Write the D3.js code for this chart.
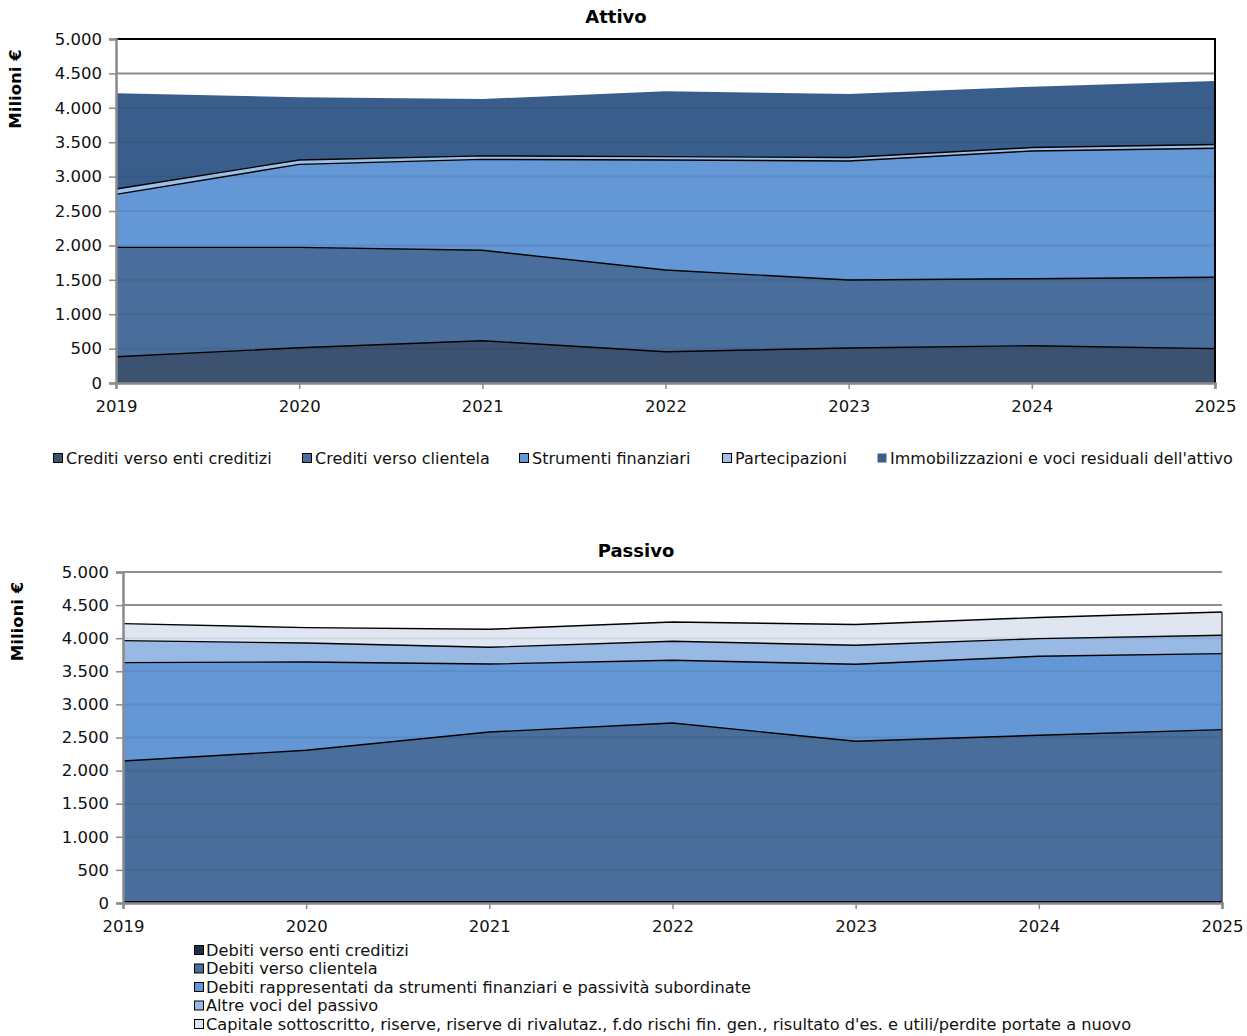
<!DOCTYPE html>
<html>
<head>
<meta charset="utf-8">
<script src="https://cdn.jsdelivr.net/npm/d3@7"></script>
<style>
  html, body { margin: 0; padding: 0; background: #fff; }
  svg { display: block; font-family: "DejaVu Sans", Verdana, sans-serif; }
</style>
</head>
<body>
<svg id="chart" width="1247" height="1036"></svg>
<script>
// Years on the x axis
const years = [2019, 2020, 2021, 2022, 2023, 2024, 2025];
const yTicks = [0, 500, 1000, 1500, 2000, 2500, 3000, 3500, 4000, 4500, 5000];

// Attivo (milioni di euro)
const attivoNames = [
  "Crediti verso enti creditizi",
  "Crediti verso clientela",
  "Strumenti finanziari",
  "Partecipazioni",
  "Immobilizzazioni e voci residuali dell'attivo"
];
const creditiEnti      = [382, 513, 615, 455, 509, 542, 499];
const creditiClientela = [1590, 1459, 1314, 1187, 988, 974, 1037];
const strumentiFin     = [770, 1206, 1322, 1599, 1730, 1856, 1875];
const partecipazioni   = [78, 63, 50, 50, 50, 50, 55];
const immobilizzazioni = [1391, 912, 827, 949, 924, 885, 924];
const attivoColors = ["#3c5270", "#4a6e9b", "#6497d5", "#9ebfe8", "#3a5e8c"];

// Passivo (milioni di euro)
const passivoNames = [
  "Debiti verso enti creditizi",
  "Debiti verso clientela",
  "Debiti rappresentati da strumenti finanziari e passività subordinate",
  "Altre voci del passivo",
  "Capitale sottoscritto, riserve, riserve di rivalutaz., f.do rischi fin. gen., risultato d'es. e utili/perdite portate a nuovo"
];
const debitiEnti       = [20, 20, 20, 20, 20, 20, 20];
const debitiClientela  = [2125, 2287, 2563, 2699, 2423, 2513, 2599];
const debitiRappr      = [1486, 1334, 1027, 947, 1163, 1194, 1148];
const altreVoci        = [333, 286, 253, 287, 287, 267, 277];
const capitale         = [256, 233, 272, 292, 315, 319, 352];
const passivoColors = ["#1c2e4a", "#4a6e9b", "#6497d5", "#98b9e3", "#dfe6f1"];

const svg = d3.select("#chart");
const fmt = v => d3.format(",")(v).replace(/,/g, ".");
const FONT = "'DejaVu Sans', Verdana, sans-serif";

function buildRows(series) {
  return years.map((y, i) => {
    const row = { year: y };
    series.forEach((s, k) => { row["s" + k] = s[i]; });
    return row;
  });
}

function drawChart(opt) {
  const g = svg.append("g");
  const x = d3.scaleLinear().domain([years[0], years[years.length - 1]]).range([opt.left, opt.right]);
  const y = d3.scaleLinear().domain([0, 5000]).range([opt.bottom, opt.top]);

  const keys = opt.series.map((_, k) => "s" + k);
  const stacked = d3.stack().keys(keys)(buildRows(opt.series));

  // horizontal gridlines behind the areas
  g.append("g").selectAll("line").data(yTicks.slice(1)).join("line")
    .attr("x1", opt.left).attr("x2", opt.right)
    .attr("y1", d => y(d)).attr("y2", d => y(d))
    .attr("stroke", "#9a9a9a").attr("stroke-width", 2);

  const area = d3.area().x(d => x(d.data.year)).y0(d => y(d[0])).y1(d => y(d[1]));
  const topLine = d3.line().x(d => x(d.data.year)).y(d => y(d[1]));

  g.append("g").selectAll("path").data(stacked).join("path")
    .attr("d", area)
    .attr("fill", (d, i) => opt.colors[i]);

  // faint gridlines seen through the fills
  g.append("g").selectAll("line").data(yTicks.slice(1)).join("line")
    .attr("x1", opt.left).attr("x2", opt.right)
    .attr("y1", d => y(d)).attr("y2", d => y(d))
    .attr("stroke", "#000").attr("stroke-opacity", 0.07).attr("stroke-width", 2);

  // black outlines along the top of each layer
  g.append("g").selectAll("path").data(stacked.filter((d, i) => opt.outline[i])).join("path")
    .attr("d", topLine)
    .attr("fill", "none").attr("stroke", "#000").attr("stroke-width", 1.4);

  if (opt.rightEdge) {
    const last = stacked[stacked.length - 1];
    g.append("line")
      .attr("x1", opt.right).attr("x2", opt.right)
      .attr("y1", y(last[last.length - 1][1])).attr("y2", opt.bottom)
      .attr("stroke", "#444").attr("stroke-width", 1.5);
  }

  if (opt.frame) {
    g.append("path")
      .attr("d", `M${opt.left},${opt.top}H${opt.right}V${opt.bottom}`)
      .attr("fill", "none").attr("stroke", "#000").attr("stroke-width", 2);
  }

  // y axis
  const yAxis = g.append("g").attr("transform", `translate(${opt.left},0)`)
    .call(d3.axisLeft(y).tickValues(yTicks).tickFormat(fmt).tickSize(7).tickPadding(7));
  yAxis.select(".domain").attr("stroke", "#8a8a8a").attr("stroke-width", 2.5);
  yAxis.selectAll(".tick line").attr("stroke", "#8a8a8a").attr("stroke-width", 1.5);
  yAxis.selectAll("text").attr("font-size", 16.5).attr("fill", "#111").attr("font-family", FONT);

  // x axis
  const xAxis = g.append("g").attr("transform", `translate(0,${opt.bottom})`)
    .call(d3.axisBottom(x).tickValues(years).tickFormat(d3.format("d")).tickSize(6).tickPadding(11));
  xAxis.select(".domain").attr("stroke", "#8a8a8a").attr("stroke-width", 2.5);
  xAxis.selectAll(".tick line").attr("stroke", "#8a8a8a").attr("stroke-width", 1.5);
  xAxis.selectAll("text").attr("font-size", 16.5).attr("fill", "#111").attr("font-family", FONT);

  // title
  g.append("text").attr("x", opt.titleX).attr("y", opt.titleY)
    .attr("text-anchor", "middle").attr("font-weight", "bold").attr("font-size", 18)
    .text(opt.title);

  // y axis label
  g.append("text")
    .attr("transform", `translate(${opt.ylabX},${(opt.top + opt.bottom) / 2 - opt.ylabShift}) rotate(-90)`)
    .attr("text-anchor", "middle").attr("font-weight", "bold").attr("font-size", 16.5)
    .text("Milioni €");
}

drawChart({
  left: 116, right: 1215, top: 39, bottom: 383,
  series: [creditiEnti, creditiClientela, strumentiFin, partecipazioni, immobilizzazioni],
  colors: attivoColors, outline: [true, true, true, true, false],
  frame: true, rightEdge: false,
  title: "Attivo", titleX: 616, titleY: 23, ylabX: 21, ylabShift: 122
});

drawChart({
  left: 123, right: 1222, top: 572, bottom: 903,
  series: [debitiEnti, debitiClientela, debitiRappr, altreVoci, capitale],
  colors: passivoColors, outline: [true, true, true, true, true],
  frame: false, rightEdge: true,
  title: "Passivo", titleX: 636, titleY: 557, ylabX: 23, ylabShift: 116
});

// Attivo legend: one row
const legTop = svg.append("g");
const legTopX = [53, 302, 519, 722, 877];
attivoNames.forEach((name, i) => {
  const it = legTop.append("g").attr("transform", `translate(${legTopX[i]},458)`);
  it.append("rect").attr("x", 0.5).attr("y", -4.5).attr("width", 9).attr("height", 9)
    .attr("fill", attivoColors[i]).attr("stroke", i < 4 ? "#000" : "none").attr("stroke-width", 1);
  it.append("text").attr("x", 13).attr("y", 5.8).attr("font-size", 16).attr("fill", "#111").text(name);
});

// Passivo legend: stacked rows
const legBot = svg.append("g");
passivoNames.forEach((name, i) => {
  const yy = 950 + i * 18.5;
  const it = legBot.append("g").attr("transform", `translate(194,${yy})`);
  it.append("rect").attr("x", 0.5).attr("y", -4.5).attr("width", 9).attr("height", 9)
    .attr("fill", passivoColors[i]).attr("stroke", "#000").attr("stroke-width", 1);
  it.append("text").attr("x", 12).attr("y", 5.8).attr("font-size", 16.2).attr("fill", "#111").text(name);
});
</script>
</body>
</html>
